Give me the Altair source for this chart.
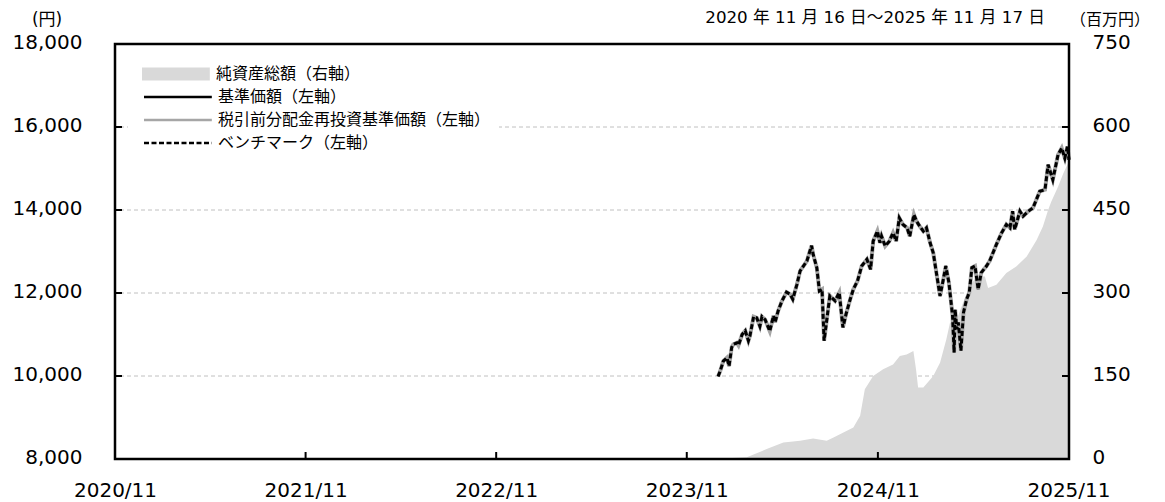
import altair as alt
import pandas as pd

# ---------------- data ----------------
SERIES_AREA = "純資産総額（右軸）"
SERIES_LINES = ["基準価額（左軸）", "税引前分配金再投資基準価額（左軸）", "ベンチマーク（左軸）"]
LINE_COLORS = ["#000000", "#a6a6a6", "#000000"]
LINE_DASHES = [[1, 0], [1, 0], [5, 2.5]]

nav_dates = [
    "2024-01-15", "2024-01-19", "2024-01-25", "2024-02-01", "2024-02-05", "2024-02-10",
    "2024-02-13", "2024-02-20", "2024-02-23", "2024-03-01", "2024-03-07", "2024-03-13",
    "2024-03-16", "2024-03-23", "2024-03-29", "2024-04-04", "2024-04-08", "2024-04-14",
    "2024-04-23", "2024-04-30", "2024-05-03", "2024-05-09", "2024-05-16", "2024-05-25",
    "2024-06-01", "2024-06-06", "2024-06-14", "2024-06-20", "2024-07-03", "2024-07-12",
    "2024-07-15", "2024-07-22", "2024-07-27", "2024-08-01", "2024-08-05", "2024-08-16",
    "2024-08-26", "2024-09-03", "2024-09-10", "2024-09-16", "2024-09-24", "2024-09-30",
    "2024-10-08", "2024-10-16", "2024-10-26", "2024-11-02", "2024-11-07", "2024-11-15",
    "2024-11-20", "2024-11-23", "2024-11-30", "2024-12-08", "2024-12-15", "2024-12-21",
    "2024-12-27", "2025-01-03", "2025-01-11", "2025-01-16", "2025-01-24", "2025-01-29",
    "2025-02-04", "2025-02-11", "2025-02-17", "2025-02-24", "2025-03-02", "2025-03-05",
    "2025-03-15", "2025-03-22", "2025-03-26", "2025-04-01", "2025-04-08", "2025-04-11",
    "2025-04-13", "2025-04-16", "2025-04-19", "2025-04-24", "2025-04-29", "2025-05-05",
    "2025-05-10", "2025-05-15", "2025-05-21", "2025-05-27", "2025-06-02", "2025-06-12",
    "2025-06-18", "2025-07-01", "2025-07-11", "2025-07-20", "2025-07-27", "2025-08-01",
    "2025-08-05", "2025-08-15", "2025-08-21", "2025-08-31", "2025-09-09", "2025-09-22",
    "2025-10-02", "2025-10-08", "2025-10-17", "2025-10-27", "2025-11-03", "2025-11-09",
    "2025-11-14", "2025-11-17",
]
nav_values = [
    9990, 10120, 10360, 10440, 10240, 10690,
    10760, 10800, 10740, 11000, 11090, 10850,
    10970, 11430, 11400, 11200, 11430, 11360,
    11080, 11450, 11290, 11570, 11800, 12020,
    11970, 11850, 12210, 12530, 12770, 13140,
    12930, 12610, 12050, 12090, 10850, 11930,
    11810, 12010, 11170, 11490, 11850, 12090,
    12290, 12650, 12810, 12570, 13250, 13490,
    13210, 13370, 13130, 13250, 13450, 13250,
    13810, 13650, 13570, 13370, 13890, 13730,
    13610, 13490, 13570, 13210, 12970, 12730,
    11930, 12370, 12650, 12250, 11450, 10570,
    11600, 11130, 11290, 10610, 11530, 11850,
    12010, 12610, 12650, 12090, 12490, 12650,
    12770, 13170, 13450, 13650, 13570, 13970,
    13530, 13970, 13850, 13970, 14050, 14450,
    14490, 15090, 14730, 15330, 15490, 15250,
    15530, 15210,
]
# The reinvested NAV and the benchmark are visually indistinguishable from the NAV
reinvest_values = list(nav_values)
benchmark_values = list(nav_values)

asset_dates = [
    "2024-01-15", "2024-03-10", "2024-04-17", "2024-05-19", "2024-06-20", "2024-07-15",
    "2024-08-10", "2024-08-23", "2024-09-30", "2024-10-13", "2024-10-22", "2024-11-07",
    "2024-11-26", "2024-12-15", "2024-12-28", "2025-01-10", "2025-01-23", "2025-01-28",
    "2025-02-01", "2025-02-11", "2025-03-02", "2025-03-15", "2025-03-27", "2025-04-03",
    "2025-04-16", "2025-04-28", "2025-05-11", "2025-05-24", "2025-06-09", "2025-06-15",
    "2025-07-01", "2025-07-20", "2025-08-08", "2025-08-28", "2025-09-16", "2025-09-28",
    "2025-10-08", "2025-10-14", "2025-10-27", "2025-11-06", "2025-11-15", "2025-11-17",
]
asset_values = [
    0.5, 3, 18, 30, 33, 37,
    33, 39, 57, 78, 126, 150,
    162, 171, 186, 189, 195, 162,
    129, 129, 150, 174, 216, 246,
    252, 282, 312, 330, 330, 309,
    315, 336, 348, 366, 396, 420,
    450, 465, 492, 516, 534, 530,
]

left_ticks = [8000, 10000, 12000, 14000, 16000, 18000]
right_ticks = [0, 150, 300, 450, 600, 750]
inner_right_ticks = [150, 300, 450, 600]
inner_left_ticks = [10000, 12000, 14000, 16000]
x_tick_years = [2020, 2021, 2022, 2023, 2024, 2025]
inner_x_tick_dates = ["2021-11-16", "2022-11-16", "2023-11-16", "2024-11-16"]

TITLE_LEFT = "(円)"
TITLE_RIGHT = "（百万円）"
TITLE_PERIOD = "2020 年 11 月 16 日～2025 年 11 月 17 日"

# ---------------- chart ----------------
W, H = 954, 415
NUM_FONT = "DejaVu Sans"
JP_FONT = "Noto Sans CJK JP"

x_scale = alt.Scale(domain=[alt.DateTime(year=2020, month=11, date=16),
                            alt.DateTime(year=2025, month=11, date=17)])
left_scale = alt.Scale(domain=[8000, 18000], nice=False, zero=False)
right_scale = alt.Scale(domain=[0, 750], nice=False, zero=False)

x_axis = alt.Axis(
    values=[alt.DateTime(year=y, month=11, date=16) for y in x_tick_years],
    format="%Y/%m", labelFlush=False, labelOverlap=False, labelPadding=21,
    ticks=False, domain=False, grid=False, title=None,
)
left_axis = alt.Axis(orient="left", values=left_ticks, format=",d", labelPadding=33,
                     labelOffset=-2, ticks=False, domain=False, grid=False, title=None)
right_axis = alt.Axis(orient="right", values=right_ticks, labelPadding=23,
                      labelOffset=-2, ticks=False, domain=False, grid=False, title=None)

area_df = pd.DataFrame({"date": pd.to_datetime(asset_dates), "value": asset_values,
                        "series": SERIES_AREA})

def line_df(values, name):
    return pd.DataFrame({"date": pd.to_datetime(nav_dates), "value": values, "series": name})

legend_area = alt.Legend(
    title=None, orient="none", legendX=19, legendY=22, padding=0,
    symbolType="M0,-1.9H20V1.9H0Z", symbolSize=46, symbolStrokeWidth=0,
    symbolOpacity=1, labelOffset=66, labelFont=JP_FONT, labelFontSize=16,
    labelColor="black", labelLimit=500, labelBaseline="middle",
)
legend_lines = alt.Legend(
    title=None, orient="none", legendX=13, legendY=37, padding=8,
    fillColor="white", symbolType="M0,0H20", symbolSize=46, symbolStrokeWidth=2.5,
    symbolOpacity=1, labelOffset=66, labelFont=JP_FONT, labelFontSize=16,
    labelColor="black", labelLimit=500, rowPadding=7, labelBaseline="middle",
)

stroke_enc = alt.Stroke("series:N", scale=alt.Scale(domain=SERIES_LINES, range=LINE_COLORS),
                        legend=legend_lines)
dash_enc = alt.StrokeDash("series:N", scale=alt.Scale(domain=SERIES_LINES, range=LINE_DASHES),
                          legend=legend_lines)

# right-axis group: grid, area, right ticks
grid = alt.Chart(pd.DataFrame({"v": inner_right_ticks})).mark_rule(
    color="#c0c0c0", strokeWidth=1, strokeDash=[4, 3]
).encode(y=alt.Y("v:Q", scale=right_scale, axis=right_axis))

area = alt.Chart(area_df).mark_area(opacity=1, interpolate="linear").encode(
    x=alt.X("date:T", scale=x_scale, axis=x_axis),
    y=alt.Y("value:Q", scale=right_scale, axis=right_axis),
    fill=alt.Fill("series:N", scale=alt.Scale(domain=[SERIES_AREA], range=["#d9d9d9"]),
                  legend=legend_area),
)

right_tick_marks = alt.Chart(pd.DataFrame({"v": inner_right_ticks})).mark_rule(
    color="black", strokeWidth=2
).encode(y=alt.Y("v:Q", scale=right_scale, axis=right_axis), x=alt.value(W - 7), x2=alt.value(W))

right_group = alt.layer(grid, area, right_tick_marks)

# left-axis group: three lines, left ticks, x ticks
def line_layer(values, idx, width):
    return alt.Chart(line_df(values, SERIES_LINES[idx])).mark_line(
        strokeWidth=width, interpolate="linear", strokeCap="butt"
    ).encode(
        x=alt.X("date:T", scale=x_scale, axis=x_axis),
        y=alt.Y("value:Q", scale=left_scale, axis=left_axis),
        stroke=stroke_enc,
        strokeDash=dash_enc,
    )

nav_line = line_layer(nav_values, 0, 2.5)
reinvest_line = line_layer(reinvest_values, 1, 4)
bench_line = line_layer(benchmark_values, 2, 3)

left_tick_marks = alt.Chart(pd.DataFrame({"v": inner_left_ticks})).mark_rule(
    color="black", strokeWidth=2
).encode(y=alt.Y("v:Q", scale=left_scale, axis=left_axis), x=alt.value(0), x2=alt.value(7))

x_tick_marks = alt.Chart(pd.DataFrame({"date": pd.to_datetime(inner_x_tick_dates)})).mark_rule(
    color="black", strokeWidth=2
).encode(x=alt.X("date:T", scale=x_scale, axis=x_axis), y=alt.value(H - 7), y2=alt.value(H))

left_group = alt.layer(nav_line, reinvest_line, bench_line, left_tick_marks, x_tick_marks)

# annotations
def text_layer(txt, xpx, ypx, size, align, font):
    return alt.Chart(pd.DataFrame({"t": [txt]})).mark_text(
        fontSize=size, align=align, baseline="middle", font=font, color="black"
    ).encode(text="t:N", x=alt.value(xpx), y=alt.value(ypx))

t_left = text_layer(TITLE_LEFT, -68, -24, 17, "center", NUM_FONT + ", " + JP_FONT)
t_right = text_layer(TITLE_RIGHT, 995, -24, 16, "center", JP_FONT)
t_period = text_layer(TITLE_PERIOD, 930, -26, 16.7, "right", NUM_FONT + ", " + JP_FONT)

frame = alt.Chart(pd.DataFrame({"f": [0]})).mark_rect(
    fillOpacity=0, stroke="black", strokeWidth=2.5
).encode(x=alt.value(0), x2=alt.value(W), y=alt.value(0), y2=alt.value(H))

chart = alt.layer(right_group, left_group, t_left, t_right, t_period, frame).resolve_scale(
    y="independent"
).properties(
    width=W, height=H,
    padding={"left": 107, "top": 36, "right": 84, "bottom": 43},
    autosize=alt.AutoSizeParams(type="none"),
).configure_view(stroke=None).configure_axis(
    labelFont=NUM_FONT, labelFontSize=20, labelColor="black"
)

chart.save("out.html", embed_options={"renderer": "svg", "actions": False})
